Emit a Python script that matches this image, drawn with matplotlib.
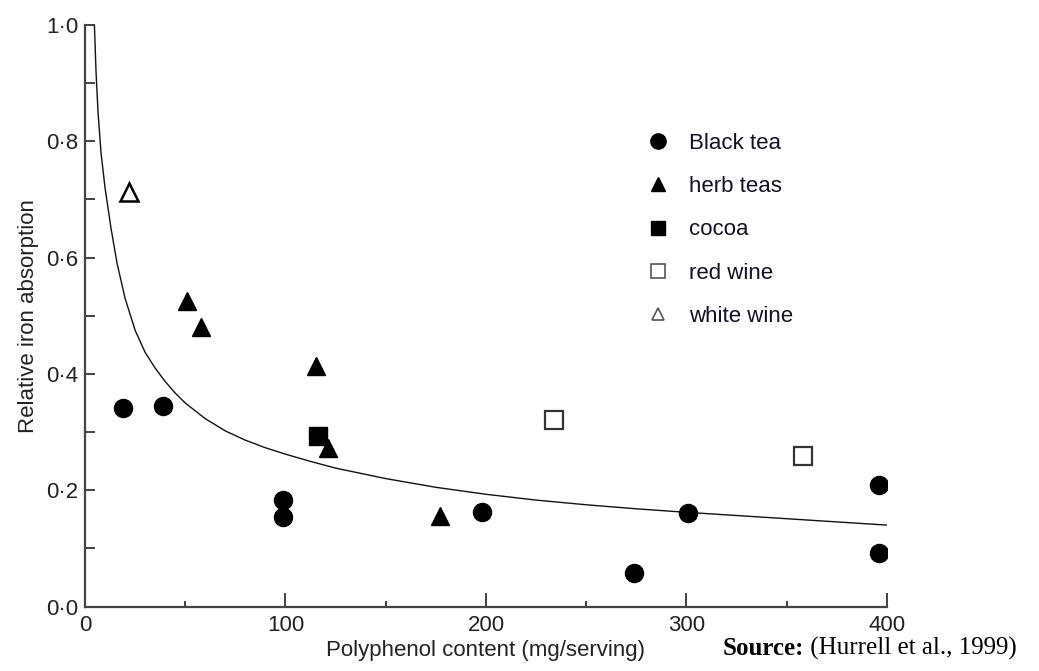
"""
Absorption relative du fer selon la teneur en polyphénols (Hurrell et al., 1999).
"""

import matplotlib
matplotlib.use("Agg")
import matplotlib.pyplot as plt
from matplotlib.lines import Line2D

# Données
black_tea_x = [19, 39, 99, 99, 198, 274, 301, 396, 396]
black_tea_y = [0.342, 0.345, 0.184, 0.154, 0.162, 0.058, 0.160, 0.209, 0.092]

herb_teas_x = [51, 58, 115, 121, 177]
herb_teas_y = [0.525, 0.481, 0.414, 0.273, 0.156]

cocoa_x = [116]
cocoa_y = [0.293]

red_wine_x = [234, 358]
red_wine_y = [0.321, 0.258]

white_wine_x = [22]
white_wine_y = [0.713]

# Courbe ajustée
curve_x = [4.7, 5.5, 6.5, 8, 10, 13, 16, 20, 25, 30, 35, 40, 45, 50, 60,
           70, 80, 90, 100, 112, 125, 150, 175, 200, 225, 250, 275, 300,
           350, 400]
curve_y = [1.0, 0.92, 0.85, 0.78, 0.72, 0.65, 0.59, 0.53, 0.475, 0.437,
           0.41, 0.387, 0.367, 0.35, 0.323, 0.302, 0.286, 0.273, 0.262,
           0.25, 0.238, 0.22, 0.205, 0.193, 0.183, 0.175, 0.168, 0.162,
           0.151, 0.14]

x_ticks = [0, 100, 200, 300, 400]
x_tick_labels = ["0", "100", "200", "300", "400"]
y_ticks = [0.0, 0.2, 0.4, 0.6, 0.8, 1.0]
y_tick_labels = ["0·0", "0·2", "0·4", "0·6", "0·8", "1·0"]

plt.rcParams["font.family"] = ["Liberation Sans", "DejaVu Sans"]


def main() -> None:
    fig = plt.figure(figsize=(10.39, 6.71), dpi=100)
    ax = fig.add_axes([0.0818, 0.0961, 0.7719, 0.8666])

    ax.plot(curve_x, curve_y, color="#111111", lw=1.0, zorder=2)

    ax.plot(black_tea_x, black_tea_y, "o", ms=13, color="black", zorder=3)
    ax.plot(herb_teas_x, herb_teas_y, "^", ms=13, color="black", zorder=3)
    ax.plot(cocoa_x, cocoa_y, "s", ms=12.5, color="black", zorder=3)
    ax.plot(red_wine_x, red_wine_y, "s", ms=12.5, mfc="white", mec="#333333",
            mew=1.6, zorder=3)
    ax.plot(white_wine_x, white_wine_y, "^", ms=13, mfc="white", mec="black",
            mew=1.8, zorder=3)

    ax.set_xlim(0, 400)
    ax.set_ylim(0, 1.0)
    ax.set_xticks(x_ticks)
    ax.set_xticklabels(x_tick_labels)
    ax.set_xticks([50, 150, 250, 350], minor=True)
    ax.set_yticks(y_ticks)
    ax.set_yticklabels(y_tick_labels)
    ax.set_yticks([0.1, 0.3, 0.5, 0.7, 0.9], minor=True)

    ax.tick_params(axis="both", which="both", direction="in", colors="#333333",
                   labelcolor="#222222", labelsize=16, width=1.3)
    ax.tick_params(axis="x", which="major", length=10, pad=6)
    ax.tick_params(axis="x", which="minor", length=4)
    ax.tick_params(axis="y", which="both", length=7, pad=5)

    for side in ["top", "right"]:
        ax.spines[side].set_visible(False)
    for side in ["left", "bottom"]:
        ax.spines[side].set_linewidth(1.6)
        ax.spines[side].set_color("#444444")

    ax.set_xlabel("Polyphenol content (mg/serving)", fontsize=16,
                  color="#222222", labelpad=3)
    ax.set_ylabel("Relative iron absorption", fontsize=16,
                  color="#222222", labelpad=5)

    handles = [
        Line2D([], [], ls="none", marker="o", ms=11, color="black"),
        Line2D([], [], ls="none", marker="^", ms=10, color="black"),
        Line2D([], [], ls="none", marker="s", ms=10.5, color="black"),
        Line2D([], [], ls="none", marker="s", ms=10.5, mfc="white",
               mec="#555555", mew=1.2),
        Line2D([], [], ls="none", marker="^", ms=9, mfc="white",
               mec="#555555", mew=1.2),
    ]
    labels = ["Black tea", "herb teas", "cocoa", "red wine", "white wine"]
    fig.legend(handles, labels, loc="upper left",
               bbox_to_anchor=(647 / 1039, 1 - 133 / 671),
               bbox_transform=fig.transFigure, frameon=False, fontsize=16,
               handlelength=1.0, handletextpad=0.9, labelspacing=1.0,
               borderpad=0, borderaxespad=0, labelcolor="#111122")

    src = fig.text(723 / 1039, 1 - 655 / 671, "Source:", fontsize=18,
                   fontweight="bold", family="Liberation Serif",
                   va="baseline", ha="left")
    ax.annotate(" (Hurrell et al., 1999)", xy=(1, 0), xycoords=src,
                fontsize=18, family="Liberation Serif", va="bottom",
                ha="left")

    fig.savefig("out.png", dpi=100)


if __name__ == "__main__":
    main()
